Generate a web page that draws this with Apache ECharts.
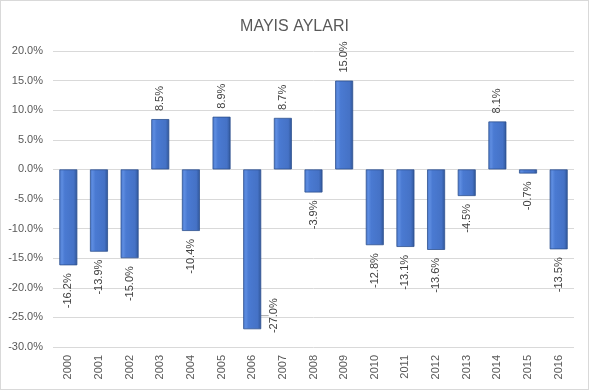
<!DOCTYPE html>
<html><head><meta charset="utf-8">
<script src="https://cdn.jsdelivr.net/npm/echarts@6/dist/echarts.min.js"></script>
<style>html,body{margin:0;padding:0;background:#fff}#c{width:589px;height:390px;box-sizing:border-box;border:1px solid #d9d9d9}</style>
</head><body><div id="c"></div>
<script>
const titleText = 'MAYIS AYLARI';
const years = ['2000','2001','2002','2003','2004','2005','2006','2007','2008','2009','2010','2011','2012','2013','2014','2015','2016'];
const values = [-16.2, -13.9, -15.0, 8.5, -10.4, 8.9, -27.0, 8.7, -3.9, 15.0, -12.8, -13.1, -13.6, -4.5, 8.1, -0.7, -13.5];
const yMin = -30, yMax = 20, yStep = 5;
const movedLabelIndex = 6;

const font = 'Liberation Sans';
const chart = echarts.init(document.getElementById('c'), null, {renderer:'canvas'});
const barColor = new echarts.graphic.LinearGradient(0,0,1,0,[
  {offset:0,color:'#4a78cc'},{offset:0.15,color:'#5d8ce0'},{offset:0.3,color:'#4a7ad2'},
  {offset:0.8,color:'#4572c6'},{offset:1,color:'#2f5597'}]);
const data = values.map((v,i)=>({
  value: v,
  label: v >= 0
    ? {position:'top', align:'left', verticalAlign:'middle'}
    : {position:'bottom', align:'right', verticalAlign:'middle'},
  labelLine: {show: i === movedLabelIndex}
}));
chart.setOption({
  animation:false,
  title:{text:titleText,left:'center',top:13,textStyle:{fontFamily:font,fontSize:16,fontWeight:'normal',color:'#595959'}},
  grid:{left:52,right:14,top:50,bottom:42,containLabel:false},
  xAxis:{type:'category',data:years,axisLine:{show:false},axisTick:{show:false},
    axisLabel:{rotate:90,margin:8,fontFamily:font,fontSize:11,color:'#595959'}},
  yAxis:{type:'value',min:yMin,max:yMax,interval:yStep,
    axisLabel:{formatter:v=>v.toFixed(1)+'%',margin:10,fontFamily:font,fontSize:11,color:'#595959'},
    splitLine:{lineStyle:{color:'#d9d9d9'}},axisLine:{show:false},axisTick:{show:false}},
  series:[{type:'bar',data:data,barWidth:18,
    itemStyle:{color:barColor,borderColor:'#2f528f',borderWidth:0.8},
    label:{show:true,rotate:90,distance:8,formatter:p=>p.value.toFixed(1)+'%',fontFamily:font,fontSize:11,color:'#404040'},
    labelLine:{lineStyle:{color:'#a6a6a6',width:1}},
    labelLayout:function(p){ if(p.dataIndex===movedLabelIndex){ return {dx:39,dy:22}; } return {}; }
  }]
});
</script></body></html>
